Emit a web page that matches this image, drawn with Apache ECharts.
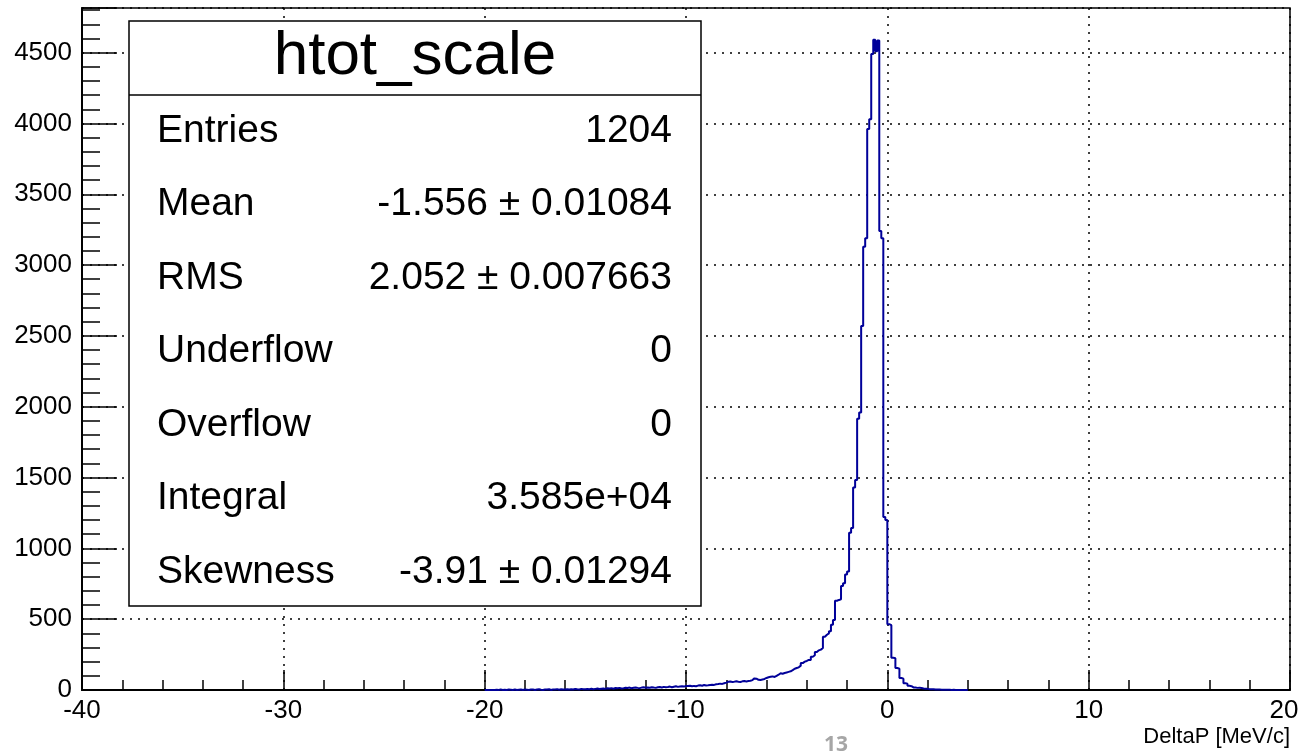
<!DOCTYPE html>
<html>
<head>
<meta charset="utf-8">
<script src="https://cdn.jsdelivr.net/npm/echarts@6/dist/echarts.min.js"></script>
<style>
html,body{margin:0;padding:0;background:#fff;}
#chart{width:1305px;height:752px;}
</style>
</head>
<body>
<div id="chart"></div>
<script>
// ---- data (histogram htot_scale, bin width 0.1 starting at -20.0) ----
var binStart = -20.0;
var binWidth = 0.1;
var counts = [
  0,0,0,0,0,2,0,3,0,2,
  0,3,2,0,3,0,2,4,0,3,
  2,0,4,3,0,3,5,2,0,4,
  3,5,0,4,3,6,2,5,4,3,
  5,4,6,3,7,5,4,8,6,5,
  7,6,9,5,8,10,7,9,11,8,
  12,10,13,9,14,12,15,11,13,16,
  14,17,12,16,18,15,13,17,19,16,
  18,16,20,17,15,19,21,18,22,20,
  21,24,19,23,26,22,25,27,24,28,
  28,30,26,29,27,31,33,30,35,32,
  33,35,37,36,40,42,45,43,48,52,
  58,60,57,59,62,58,56,61,63,60,
  63,65,70,82,80,72,70,74,78,85,
  90,94,96,92,100,108,118,115,120,124,
  128,132,140,150,155,160,172,190,200,205,
  212,212,235,245,268,280,285,297,376,390,
  400,415,460,494,630,636,640,735,754,815,
  836,1110,1144,1430,1483,1915,1960,2570,3130,3190,
  3960,4030,4490,4590,4510,4585,3240,3190,1222,1200,
  465,458,228,224,155,150,85,80,48,45,
  30,27,18,17,15,16,14,10,9,8,
  6,5,5,4,3,3,2,2,2,1,
  1,0,1,0,0,0,0,0,0,0
];
var xMin = -40, xMax = 20, xStep = 10;
var yMin = 0, yMax = 4815, yStep = 500, yMinorStep = 100;
var xTitle = 'DeltaP [MeV/c]';
var statsTitle = 'htot_scale';
var statsLabels = ['Entries', 'Mean', 'RMS', 'Underflow', 'Overflow', 'Integral', 'Skewness'];
var statsValues = ['1204', '-1.556 \u00b1 0.01084', '2.052 \u00b1 0.007663', '0', '0', '3.585e+04', '-3.91 \u00b1 0.01294'];
var pageNumber = '13';

// ---- build step data ----
var stepData = [];
for (var i = 0; i < counts.length; i++) {
  stepData.push([+(binStart + i * binWidth).toFixed(2), counts[i]]);
}
stepData.push([+(binStart + counts.length * binWidth).toFixed(2), counts[counts.length - 1]]);

var FONT = 'Liberation Sans';
var chart = echarts.init(document.getElementById('chart'), null, {renderer: 'canvas'});

// stats box graphics
var boxX = 129, boxY = 21, boxW = 572, boxH = 585;
var g = [];
g.push({type: 'rect', z: 100, shape: {x: boxX, y: boxY, width: boxW, height: boxH},
  style: {fill: '#fff', stroke: '#000', lineWidth: 1.5}});
g.push({type: 'line', z: 101, shape: {x1: boxX, y1: 95, x2: boxX + boxW, y2: 95},
  style: {stroke: '#000', lineWidth: 1.5}});
g.push({type: 'text', z: 102, x: boxX + boxW / 2, y: 57,
  style: {text: statsTitle, font: '62px "' + FONT + '"', fill: '#000', align: 'center', verticalAlign: 'middle'}});
for (var k = 0; k < statsLabels.length; k++) {
  var yy = 131 + k * 73.5;
  g.push({type: 'text', z: 102, x: 157, y: yy,
    style: {text: statsLabels[k], font: '39px "' + FONT + '"', fill: '#000', align: 'left', verticalAlign: 'middle'}});
  g.push({type: 'text', z: 102, x: 672, y: yy,
    style: {text: statsValues[k], font: '39px "' + FONT + '"', fill: '#000', align: 'right', verticalAlign: 'middle'}});
}
g.push({type: 'text', z: 102, x: 836, y: 735,
  style: {text: pageNumber, font: 'bold 21px "Open Sans"', fill: '#a6a6a6', align: 'center', verticalAlign: 'top'}});

var option = {
  animation: false,
  backgroundColor: '#fff',
  grid: {left: 82, top: 8, width: 1208, height: 682, show: true, borderColor: '#000', borderWidth: 1.5, backgroundColor: 'transparent'},
  xAxis: {
    type: 'value', min: xMin, max: xMax, interval: xStep,
    name: xTitle, nameLocation: 'end', nameGap: 0,
    nameTextStyle: {fontFamily: FONT, fontSize: 22, color: '#000', align: 'right', verticalAlign: 'top', padding: [36, 0, 0, 0]},
    axisLine: {show: true, onZero: false, lineStyle: {color: '#000', width: 2}},
    axisTick: {show: true, inside: true, length: 20, lineStyle: {color: '#000', width: 1.5}},
    minorTick: {show: true, splitNumber: 5, length: 10, lineStyle: {color: '#000', width: 1.5}},
    splitLine: {show: true, lineStyle: {color: '#000', width: 1.5, type: [2, 6]}},
    axisLabel: {
      fontFamily: FONT, fontSize: 26, color: '#000', margin: 8,
      formatter: function (v) { return v === xMax ? '{r|' + v + '}' : String(v); },
      rich: {r: {fontFamily: FONT, fontSize: 26, color: '#000', padding: [0, 12, 0, 0]}}
    }
  },
  yAxis: [{
    type: 'value', min: yMin, max: yMax, interval: yStep, position: 'left',
    axisLine: {show: true, onZero: false, lineStyle: {color: '#000', width: 2}},
    axisTick: {show: true, inside: true, length: 35, lineStyle: {color: '#000', width: 1.5}},
    splitLine: {show: true, lineStyle: {color: '#000', width: 1.5, type: [2, 6]}},
    axisLabel: {
      fontFamily: FONT, fontSize: 26, color: '#000', margin: 10,
      formatter: function (v) { return (v % yStep === 0) ? String(v) : ''; }
    }
  }, {
    type: 'value', min: yMin, max: yMax, interval: yMinorStep, position: 'left', offset: 0,
    axisLine: {show: false, onZero: false},
    axisTick: {show: true, inside: true, length: 18, lineStyle: {color: '#000', width: 1.5}},
    splitLine: {show: false},
    axisLabel: {show: false}
  }],
  series: [{
    type: 'line', step: 'end', yAxisIndex: 0, data: stepData,
    showSymbol: false, symbol: 'none', z: 5,
    lineStyle: {color: '#000099', width: 2},
    clip: true
  }],
  graphic: g
};
chart.setOption(option);
</script>
</body>
</html>
